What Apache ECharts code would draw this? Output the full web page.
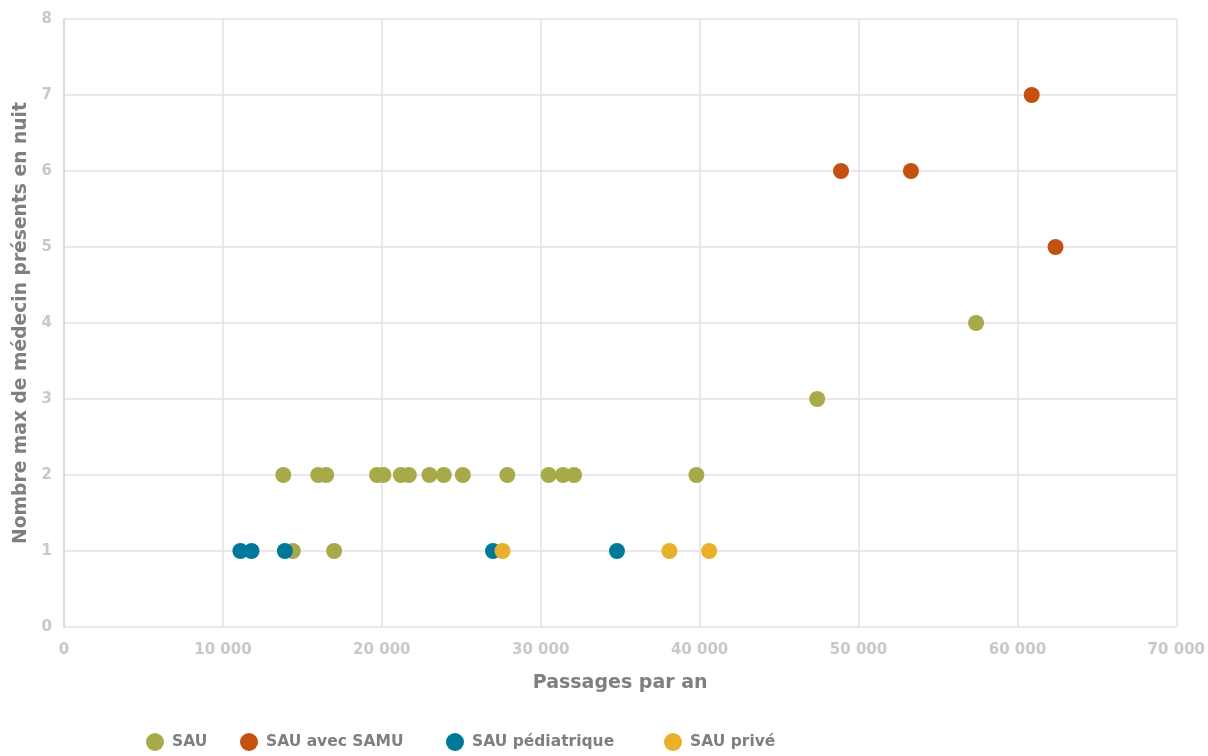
<!DOCTYPE html>
<html>
<head>
<meta charset="utf-8">
<script src="https://cdn.jsdelivr.net/npm/echarts@6/dist/echarts.min.js"></script>
<style>
html,body{margin:0;padding:0;background:#fff;}
#chart{width:1208px;height:756px;}
</style>
</head>
<body>
<div id="chart"></div>
<script>
// Data: [passages par an, nombre max de médecins]
const sau = [
  [13800, 2], [16000, 2], [16500, 2], [19700, 2], [20100, 2], [21200, 2], [21700, 2],
  [23000, 2], [23900, 2], [25100, 2], [27900, 2], [30500, 2], [31400, 2], [32100, 2],
  [39800, 2], [14400, 1], [17000, 1], [47400, 3], [57400, 4]
];
const sauSamu = [[48900, 6], [53300, 6], [60900, 7], [62400, 5]];
const sauPediatrique = [[11100, 1], [11800, 1], [13900, 1], [27000, 1], [34800, 1]];
const sauPrive = [[27600, 1], [38100, 1], [40600, 1]];

const seriesNames = ['SAU', 'SAU avec SAMU', 'SAU pédiatrique', 'SAU privé'];
const seriesColors = ['#a8a949', '#c4510f', '#00789a', '#e8b02b'];
const xTicks = { min: 0, max: 70000, interval: 10000 };
const yTicks = { min: 0, max: 8, interval: 1 };

const FONT = '"DejaVu Sans", sans-serif';
const chart = echarts.init(document.getElementById('chart'), null, { renderer: 'canvas' });

const datasets = [sau, sauSamu, sauPediatrique, sauPrive];
const legendLefts = [146, 240, 446, 664];

chart.setOption({
  animation: false,
  backgroundColor: '#ffffff',
  textStyle: { fontFamily: FONT },
  grid: { left: 64, right: 31, top: 19, bottom: 129 },
  legend: seriesNames.map((n, i) => ({
    data: [n],
    left: legendLefts[i],
    top: 733,
    padding: 0,
    icon: 'circle',
    itemWidth: 18,
    itemHeight: 18,
    itemGap: 0,
    textStyle: { fontFamily: FONT, fontSize: 15.5, fontWeight: 'bold', color: '#7f7f7f', padding: [0, 0, 0, 3] }
  })),
  xAxis: {
    type: 'value',
    min: xTicks.min, max: xTicks.max, interval: xTicks.interval,
    name: 'Passages par an',
    nameLocation: 'middle',
    nameGap: 47,
    nameTextStyle: { fontFamily: FONT, fontSize: 19, fontWeight: 'bold', color: '#7f7f7f' },
    axisLine: { show: false },
    axisTick: { show: false },
    axisLabel: {
      margin: 16, color: '#c8c8c8', fontSize: 15, fontWeight: 'bold', fontFamily: FONT,
      formatter: v => v === 0 ? '0' : String(v).replace(/\B(?=(\d{3})+(?!\d))/g, ' ')
    },
    splitLine: { show: true, lineStyle: { color: '#e2e2e2', width: 1.5 } }
  },
  yAxis: {
    type: 'value',
    min: yTicks.min, max: yTicks.max, interval: yTicks.interval,
    name: 'Nombre max de médecin présents en nuit',
    nameLocation: 'middle',
    nameGap: 32,
    nameRotate: 90,
    nameTextStyle: { fontFamily: FONT, fontSize: 18.7, fontWeight: 'bold', color: '#7f7f7f' },
    axisLine: { show: true, lineStyle: { color: '#d6d6d6', width: 1.5 } },
    axisTick: { show: false },
    axisLabel: { margin: 12, color: '#c8c8c8', fontSize: 15, fontWeight: 'bold', fontFamily: FONT },
    splitLine: { show: true, lineStyle: { color: '#e2e2e2', width: 1.5 } }
  },
  series: seriesNames.map((n, i) => ({
    name: n,
    type: 'scatter',
    data: datasets[i],
    symbol: 'circle',
    symbolSize: 16,
    itemStyle: { color: seriesColors[i], opacity: 1 },
    z: 2 + i
  }))
});
</script>
</body>
</html>
